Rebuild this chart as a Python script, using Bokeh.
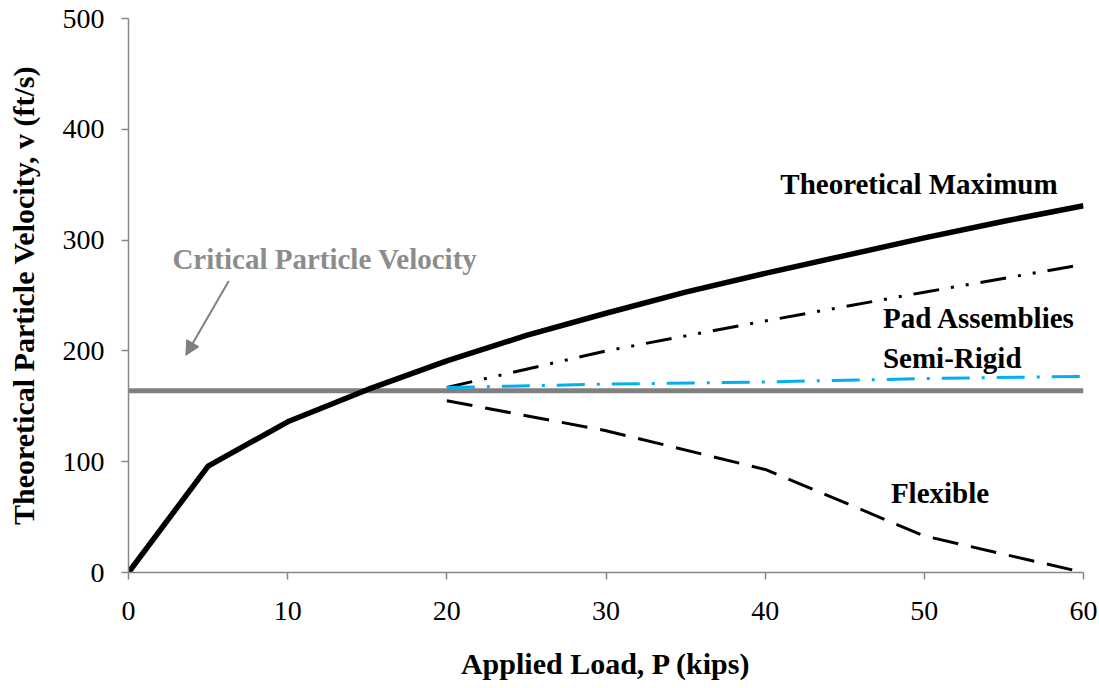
from bokeh.plotting import figure
from bokeh.models import Range1d, FixedTicker, Arrow, NormalHead, ColumnDataSource
from bokeh.core.properties import value
from bokeh.embed import file_html
from bokeh.resources import INLINE

# ---- data ----
load_max = [0, 5, 10, 15, 20, 25, 30, 35, 40, 45, 50, 55, 60]
v_max = [0, 96, 136, 165, 191, 214, 234, 253, 270, 286, 302, 317, 331]

load_crit = [0, 60]
v_crit = [164, 164]

load_pad = [20, 30, 40, 50, 60]
v_pad = [167, 200, 227, 253, 278]

load_semi = [20, 30, 40, 50, 60]
v_semi = [167, 170, 172, 175, 177]

load_flex = [20, 30, 40, 50, 60]
v_flex = [155, 128, 93, 33, 0]

x_ticks = [0, 10, 20, 30, 40, 50, 60]
y_ticks = [0, 100, 200, 300, 400, 500]

label_texts = ["Theoretical Maximum", "Pad Assemblies", "Semi-Rigid", "Flexible"]
label_x = [40.95, 47.4, 47.4, 47.9]
label_y = [351, 230, 194, 72]

crit_label = "Critical Particle Velocity"
crit_label_x = 2.76
crit_label_y = 283
arrow_start = (6.3, 263)
arrow_end = (3.6, 196)

FONT = "Liberation Serif"
GRAY = "#868686"

p = figure(width=1099, height=688, output_backend="svg", toolbar_location=None,
           x_range=Range1d(0, 60), y_range=Range1d(0, 500),
           min_border_left=128, min_border_right=16, min_border_top=18,
           min_border_bottom=116)
p.outline_line_color = None
p.xgrid.visible = False
p.ygrid.visible = False
p.background_fill_color = "white"
p.border_fill_color = "white"

for ax in (p.xaxis[0], p.yaxis[0]):
    ax.axis_line_color = GRAY
    ax.axis_line_width = 1.5
    ax.major_tick_line_color = GRAY
    ax.major_tick_line_width = 1.5
    ax.major_tick_out = 7
    ax.major_tick_in = 0
    ax.minor_tick_line_color = None
    ax.major_label_text_font = FONT
    ax.major_label_text_font_size = "28px"
    ax.major_label_text_color = "black"
    ax.axis_label_text_font = FONT
    ax.axis_label_text_font_size = "30px"
    ax.axis_label_text_font_style = "bold"
    ax.axis_label_text_color = "black"

p.xaxis[0].ticker = FixedTicker(ticks=x_ticks)
p.yaxis[0].ticker = FixedTicker(ticks=y_ticks)
p.xaxis[0].axis_label = "Applied Load, P (kips)"
p.yaxis[0].axis_label = "Theoretical Particle Velocity, v (ft/s)"
p.xaxis[0].major_label_standoff = 22
p.xaxis[0].axis_label_standoff = 24
p.yaxis[0].major_label_standoff = 17
p.yaxis[0].axis_label_standoff = 20

# lines
p.line(load_crit, v_crit, line_color="#808080", line_width=5)
p.line(load_pad, v_pad, line_color="black", line_width=3, line_dash="26 12 3 12 3 12")
p.line(load_semi, v_semi, line_color="#00B0F0", line_width=3, line_dash="28 12 3 12")
p.line(load_flex, v_flex, line_color="black", line_width=3, line_dash="26 13")
p.line(load_max, v_max, line_color="black", line_width=5.5, line_join="round")

# labels
src = ColumnDataSource(dict(x=label_x, y=label_y, t=label_texts))
p.text(x="x", y="y", text="t", source=src, text_font=value(FONT),
       text_font_size="29px", text_font_style="bold", text_color="black",
       text_baseline="middle", text_align="left")
p.text(x=[crit_label_x], y=[crit_label_y], text=[crit_label], text_font=value(FONT),
       text_font_size="29px", text_font_style="bold", text_color="#8c8c8c",
       text_baseline="middle", text_align="left")

p.add_layout(Arrow(end=NormalHead(size=14, line_color="#808080", fill_color="#808080"),
                   x_start=arrow_start[0], y_start=arrow_start[1],
                   x_end=arrow_end[0], y_end=arrow_end[1],
                   line_color="#808080", line_width=2))

open("out.html", "w").write(file_html(p, INLINE))
